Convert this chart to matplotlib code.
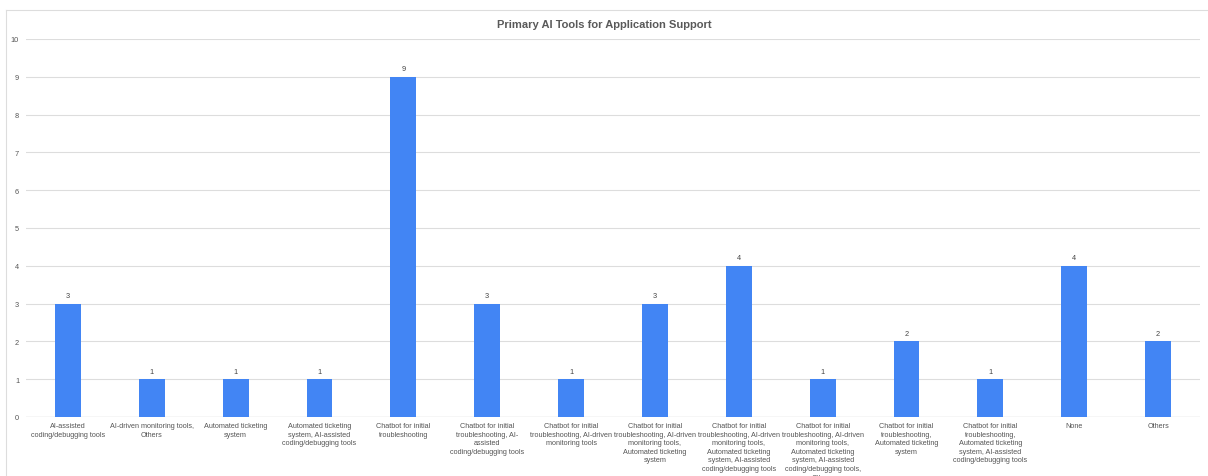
import matplotlib.pyplot as plt
from matplotlib.lines import Line2D
import numpy as np

plt.rcParams['font.family'] = ['Liberation Sans', 'DejaVu Sans']

categories = [
    "AI-assisted\ncoding/debugging tools",
    "AI-driven monitoring tools,\nOthers",
    "Automated ticketing\nsystem",
    "Automated ticketing\nsystem, AI-assisted\ncoding/debugging tools",
    "Chatbot for initial\ntroubleshooting",
    "Chatbot for initial\ntroubleshooting, AI-\nassisted\ncoding/debugging tools",
    "Chatbot for initial\ntroubleshooting, AI-driven\nmonitoring tools",
    "Chatbot for initial\ntroubleshooting, AI-driven\nmonitoring tools,\nAutomated ticketing\nsystem",
    "Chatbot for initial\ntroubleshooting, AI-driven\nmonitoring tools,\nAutomated ticketing\nsystem, AI-assisted\ncoding/debugging tools",
    "Chatbot for initial\ntroubleshooting, AI-driven\nmonitoring tools,\nAutomated ticketing\nsystem, AI-assisted\ncoding/debugging tools,\nOthers",
    "Chatbot for initial\ntroubleshooting,\nAutomated ticketing\nsystem",
    "Chatbot for initial\ntroubleshooting,\nAutomated ticketing\nsystem, AI-assisted\ncoding/debugging tools",
    "None",
    "Others",
]
counts = [3, 1, 1, 1, 9, 3, 1, 3, 4, 1, 2, 1, 4, 2]
y_ticks = list(range(0, 11))

fig = plt.figure(figsize=(12.08, 4.77), dpi=100)
ax = fig.add_axes([26 / 1208, 1 - 418 / 477, 1174 / 1208, 378 / 477])

x = np.arange(len(categories))
bars = ax.bar(x, counts, width=0.31, color='#4285F4', zorder=3)
for b, v in zip(bars, counts):
    ax.text(b.get_x() + b.get_width() / 2, v + 0.12, str(v), ha='center', va='bottom',
            fontsize=5.3, color='#444444')

ax.set_xlim(-0.5, len(categories) - 0.5)
ax.set_ylim(0, 10)
ax.set_yticks(y_ticks)
ax.set_yticklabels([str(t) for t in y_ticks], fontsize=5.3, color='#555555')
ax.set_xticks(x)
ax.set_xticklabels(categories, fontsize=5.2, color='#555555', linespacing=1.33, va='top')
ax.tick_params(axis='x', length=0, pad=3.5)
ax.tick_params(axis='y', length=0, pad=5)
ax.grid(axis='y', color='#dddddd', linewidth=0.8, zorder=0)
for s in ax.spines.values():
    s.set_visible(False)
ax.axhline(0, color='#cccccc', linewidth=0.9, zorder=2)

fig.text(0.5, 1 - 25 / 477, "Primary AI Tools for Application Support", ha='center', va='center',
         fontsize=8, fontweight='bold', color='#595959')

# thin border along the top and left of the chart frame
fig.add_artist(Line2D([6 / 1208, 1], [1 - 11 / 477, 1 - 11 / 477], color='#dddddd', linewidth=0.8))
fig.add_artist(Line2D([6 / 1208, 6 / 1208], [0, 1 - 11 / 477], color='#dddddd', linewidth=0.8))

fig.savefig('out.png', dpi=100)
